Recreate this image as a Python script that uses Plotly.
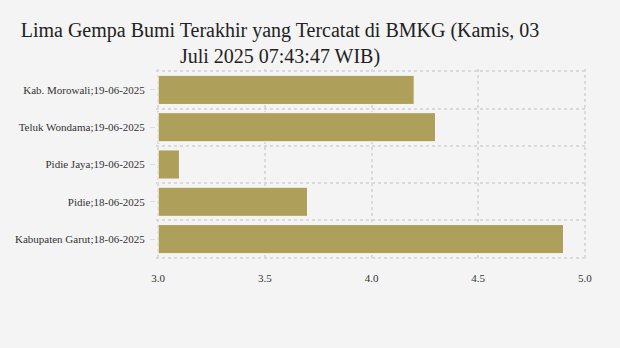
import plotly.graph_objects as go

categories = [
    "Kab. Morowali;19-06-2025",
    "Teluk Wondama;19-06-2025",
    "Pidie Jaya;19-06-2025",
    "Pidie;18-06-2025",
    "Kabupaten Garut;18-06-2025",
]
magnitudes = [4.2, 4.3, 3.1, 3.7, 4.9]
x_ticks = [3.0, 3.5, 4.0, 4.5, 5.0]
axis_start = 3.0

positions = list(range(len(categories)))
boundaries = [p - 0.5 for p in positions] + [positions[-1] + 0.5]

BG = "#f4f4f4"
GRID = "#dadada"
SERIF = "Liberation Serif"

fig = go.Figure(
    go.Bar(
        x=[m - axis_start for m in magnitudes],
        base=axis_start,
        y=positions,
        orientation="h",
        marker=dict(color="#aea05b", line=dict(color="#f7f7f7", width=1)),
        width=0.78,
        customdata=[[c, m] for c, m in zip(categories, magnitudes)],
        hovertemplate="%{customdata[0]}: %{customdata[1]}<extra></extra>",
    )
)

fig.update_layout(
    width=620,
    height=348,
    paper_bgcolor=BG,
    plot_bgcolor=BG,
    margin=dict(l=156, r=33, t=69, b=88),
    showlegend=False,
    title=dict(
        text="Lima Gempa Bumi Terakhir yang Tercatat di BMKG (Kamis, 03<br>Juli 2025 07:43:47 WIB)",
        x=280 / 620,
        xanchor="center",
        y=0.895,
        yanchor="top",
        font=dict(family=SERIF, size=20, color="#222222"),
    ),
    font=dict(family=SERIF, size=11, color="#333333"),
)

fig.update_xaxes(
    range=[2.99, 5.01],
    tickvals=x_ticks,
    tickformat=".1f",
    showgrid=True,
    gridcolor=GRID,
    gridwidth=1.5,
    griddash="dot",
    zeroline=False,
    showline=False,
    ticks="",
    ticklabelstandoff=10,
    tickfont=dict(family=SERIF, size=11, color="#333333"),
)

fig.update_yaxes(
    range=[len(categories) - 0.5 + 0.06, -0.5 - 0.06],
    tickvals=positions,
    ticktext=categories,
    showgrid=False,
    zeroline=False,
    showline=False,
    ticks="outside",
    ticklen=5,
    tickcolor="#dddddd",
    ticklabelstandoff=3,
    tickfont=dict(family=SERIF, size=11, color="#333333"),
    minor=dict(
        tickvals=boundaries,
        showgrid=True,
        gridcolor=GRID,
        gridwidth=1.5,
        griddash="dot",
        ticks="",
    ),
)

fig.write_html("out.html")
